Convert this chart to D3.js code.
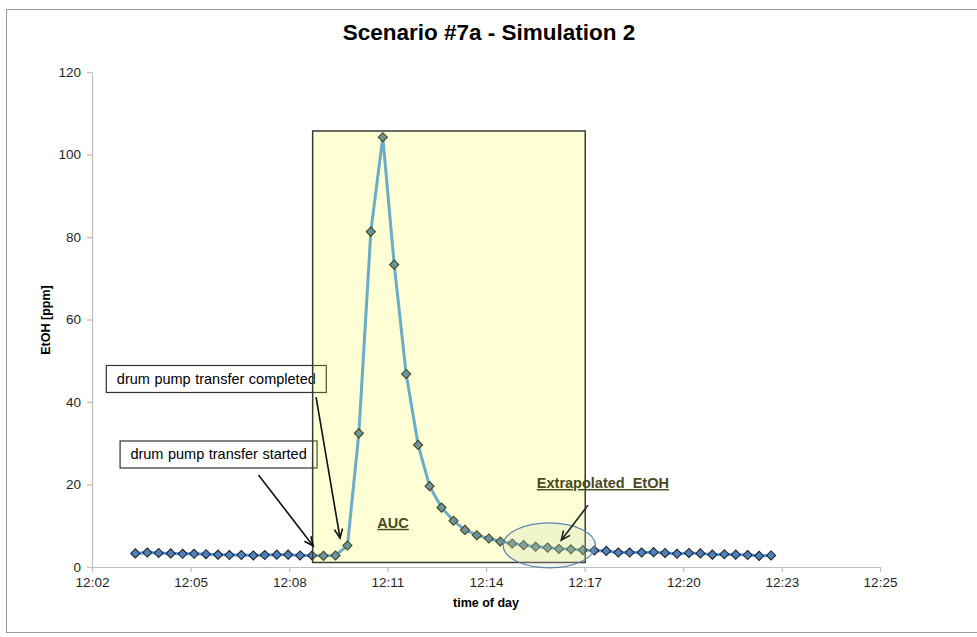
<!DOCTYPE html>
<html>
<head>
<meta charset="utf-8">
<script src="https://cdn.jsdelivr.net/npm/d3@7"></script>
<style>
  html, body { margin: 0; padding: 0; background: #fff; }
  text { font-family: "Liberation Sans", Arial, sans-serif; }
</style>
</head>
<body>
<script>
// Sample times (time of day) and EtOH readings in ppm
const times = [
  "12:03:40","12:04:01","12:04:21","12:04:42","12:05:03","12:05:23","12:05:44","12:06:05",
  "12:06:25","12:06:46","12:07:07","12:07:27","12:07:48","12:08:08","12:08:29","12:08:50",
  "12:09:10","12:09:31","12:09:52","12:10:12","12:10:33","12:10:54","12:11:14","12:11:35",
  "12:11:56","12:12:16","12:12:37","12:12:58","12:13:18","12:13:39","12:14:00","12:14:20",
  "12:14:41","12:15:01","12:15:22","12:15:43","12:16:03","12:16:24","12:16:45","12:17:05",
  "12:17:26","12:17:47","12:18:07","12:18:28","12:18:49","12:19:09","12:19:30","12:19:51",
  "12:20:11","12:20:32","12:20:53","12:21:13","12:21:34","12:21:54","12:22:15"
];
const etoh = [
  3.3, 3.5, 3.4, 3.3, 3.2, 3.2, 3.1, 3.0, 2.9, 2.9, 2.8, 2.9, 3.0, 3.0, 2.8, 2.8,
  2.7, 2.8, 5.2, 32.4, 81.3, 104.2, 73.3, 46.8, 29.6, 19.6, 14.4, 11.2, 9.0, 7.7, 6.9, 6.2,
  5.7, 5.3, 4.9, 4.7, 4.4, 4.3, 4.1, 4.0, 3.9, 3.5, 3.5, 3.5, 3.6, 3.4, 3.2, 3.4,
  3.3, 3.0, 3.1, 3.0, 2.9, 2.7, 2.8
];

// Axis ticks
const xTickTimes = ["12:02:24","12:05:17","12:08:10","12:11:02","12:13:55","12:16:48","12:19:41","12:22:34","12:25:26"];
const xTickLabels = ["12:02","12:05","12:08","12:11","12:14","12:17","12:20","12:23","12:25"];
const yTicks = [0, 20, 40, 60, 80, 100, 120];

// Area-under-curve window and annotation anchors (time, ppm)
const aucWindow = ["12:08:51", "12:16:49"];
const aucRange = [1.1, 105.7];
const extrapWindow = ["12:14:25", "12:17:07"];
const extrapRange = [-0.2, 10.7];

const parse = d3.timeParse("%H:%M:%S");
const data = times.map((t, i) => ({ t: parse(t), v: etoh[i] }));

const W = 977, H = 637;
const svg = d3.select("body").append("svg").attr("width", W).attr("height", H);

// Outer chart frame
svg.append("rect")
  .attr("x", 6.5).attr("y", 9.5).attr("width", W).attr("height", 623)
  .attr("fill", "none").attr("stroke", "#9a9a9a").attr("stroke-width", 1);

const x = d3.scaleTime()
  .domain([parse("12:02:24"), parse("12:25:26")])
  .range([92, 880]);
const y = d3.scaleLinear().domain([0, 120]).range([567, 72]);

// Title
svg.append("text")
  .attr("x", 489).attr("y", 40)
  .attr("text-anchor", "middle")
  .attr("font-size", 22.5).attr("font-weight", "bold").attr("fill", "#000")
  .text("Scenario #7a - Simulation 2");

// Axes
const xAxis = d3.axisBottom(x)
  .tickValues(xTickTimes.map(parse))
  .tickFormat((d, i) => xTickLabels[i])
  .tickSize(5).tickSizeOuter(0).tickPadding(5);
const yAxis = d3.axisLeft(y)
  .tickValues(yTicks)
  .tickSize(5).tickSizeOuter(0).tickPadding(6);

const gx = svg.append("g").attr("transform", "translate(0,567)").call(xAxis);
const gy = svg.append("g").attr("transform", "translate(92,0)").call(yAxis);
[gx, gy].forEach(g => {
  g.select(".domain").attr("stroke", "#bdbdbd").attr("stroke-width", 1.2);
  g.selectAll(".tick line").attr("stroke", "#bdbdbd").attr("stroke-width", 1.2);
  g.selectAll(".tick text")
    .attr("font-family", "'Liberation Sans', Arial, sans-serif")
    .attr("font-size", 13.5).attr("fill", "#1f1f1f");
});

// Axis titles
svg.append("text")
  .attr("transform", "translate(50,320) rotate(-90)")
  .attr("text-anchor", "middle")
  .attr("font-size", 12.5).attr("font-weight", "bold").attr("fill", "#000")
  .text("EtOH [ppm]");
svg.append("text")
  .attr("x", 486).attr("y", 607)
  .attr("text-anchor", "middle")
  .attr("font-size", 12.5).attr("font-weight", "bold").attr("fill", "#000")
  .text("time of day");

// Series line
const line = d3.line().x(d => x(d.t)).y(d => y(d.v));
svg.append("path")
  .datum(data)
  .attr("d", line)
  .attr("fill", "none")
  .attr("stroke", "#4f9cf0")
  .attr("stroke-width", 3)
  .attr("stroke-linejoin", "round");

// Diamond markers
const diamond = d3.symbol().type(d3.symbolSquare).size(42);
svg.append("g").selectAll("path")
  .data(data)
  .join("path")
  .attr("d", diamond)
  .attr("transform", d => `translate(${x(d.t)},${y(d.v)}) rotate(45)`)
  .attr("fill", "#4f81bd")
  .attr("stroke", "#1c1c1c")
  .attr("stroke-width", 1);

// Callout boxes with arrows
function arrow(x1, y1, x2, y2, color) {
  const g = svg.append("g").attr("stroke", color).attr("stroke-width", 1.6).attr("fill", "none");
  g.append("line").attr("x1", x1).attr("y1", y1).attr("x2", x2).attr("y2", y2);
  const a = Math.atan2(y2 - y1, x2 - x1);
  const len = 10, spread = 0.42;
  g.append("path")
    .attr("d", `M${x2 - len * Math.cos(a - spread)},${y2 - len * Math.sin(a - spread)}` +
               `L${x2},${y2}` +
               `L${x2 - len * Math.cos(a + spread)},${y2 - len * Math.sin(a + spread)}`);
}

function callout(label, t, v, w) {
  const cx = x(parse(t)), cy = y(v);
  svg.append("rect")
    .attr("x", cx - w / 2).attr("y", cy - 13).attr("width", w).attr("height", 27)
    .attr("fill", "#fff").attr("stroke", "#333").attr("stroke-width", 1.2);
  svg.append("text")
    .attr("x", cx).attr("y", cy + 5.5)
    .attr("text-anchor", "middle")
    .attr("font-size", 14.5).attr("fill", "#000")
    .attr("word-spacing", 0.5)
    .text(label);
}

callout("drum pump transfer completed", "12:06:02", 45.7, 220);
callout("drum pump transfer started", "12:06:06", 27.4, 197);

// AUC window (translucent highlight over the series)
svg.append("rect")
  .attr("x", x(parse(aucWindow[0])))
  .attr("y", y(aucRange[1]))
  .attr("width", x(parse(aucWindow[1])) - x(parse(aucWindow[0])))
  .attr("height", y(aucRange[0]) - y(aucRange[1]))
  .attr("fill", "#ffff00").attr("fill-opacity", 0.16)
  .attr("stroke", "#3a3a3a").attr("stroke-width", 1.5);

// Extrapolated region ellipse
const ex0 = x(parse(extrapWindow[0])), ex1 = x(parse(extrapWindow[1]));
const ey0 = y(extrapRange[1]), ey1 = y(extrapRange[0]);
svg.append("ellipse")
  .attr("cx", (ex0 + ex1) / 2).attr("cy", (ey0 + ey1) / 2)
  .attr("rx", (ex1 - ex0) / 2).attr("ry", (ey1 - ey0) / 2)
  .attr("fill", "#c9d9b0").attr("fill-opacity", 0.25)
  .attr("stroke", "#5b84b1").attr("stroke-width", 1.2);

arrow(x(parse("12:07:16")), y(22.3), x(parse("12:08:52")), y(5.1), "#111");
arrow(x(parse("12:08:57")), y(41.2), x(parse("12:09:39")), y(7.0), "#111");
arrow(x(parse("12:16:54")), y(15.0), x(parse("12:16:07")), y(6.5), "#222");

// Region labels
svg.append("text")
  .attr("x", x(parse("12:11:12"))).attr("y", y(9.5))
  .attr("text-anchor", "middle")
  .attr("font-size", 14.5).attr("font-weight", "bold")
  .attr("fill", "#4a4a1e").attr("text-decoration", "underline")
  .text("AUC");
svg.append("text")
  .attr("x", x(parse("12:17:20"))).attr("y", y(19.15))
  .attr("text-anchor", "middle")
  .attr("font-size", 14.5).attr("font-weight", "bold")
  .attr("fill", "#4a4a1e").attr("text-decoration", "underline")
  .style("white-space", "pre")
  .text("Extrapolated  EtOH");
</script>
</body>
</html>
